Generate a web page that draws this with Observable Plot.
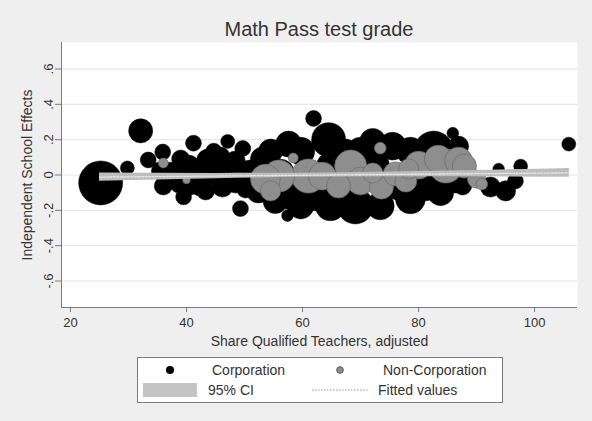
<!DOCTYPE html>
<html>
<head>
<meta charset="utf-8">
<script src="https://cdn.jsdelivr.net/npm/d3@7"></script>
<script src="https://cdn.jsdelivr.net/npm/@observablehq/plot@0.6"></script>
<style>
  html, body { margin: 0; padding: 0; background: #efefef; }
  #wrap { position: relative; width: 592px; height: 421px; background: #efefef; overflow: hidden;
          font-family: "Liberation Sans", Arial, sans-serif; color: #333; }
  #title { position: absolute; top: 19px; left: 61px; width: 516px; text-align: center;
           font-size: 20px; line-height: 20px; color: #333; }
  #chart { position: absolute; top: 0; left: 0; }
  #legend { position: absolute; top: 350px; left: 0; }
</style>
</head>
<body>
<div id="wrap">
  <div id="title">Math Pass test grade</div>
  <div id="chart"></div>
  <div id="legend"></div>
</div>
<script>
// ---- Data ----
const corpX = [25.2, 32.1, 29.8, 33.4, 35.9, 36.0, 39.5, 41.2, 47.1, 49.7, 49.3,
  37.2, 40.3, 43.8, 47.2, 42.4, 46.2, 38.6, 51.0, 44.7, 50.2,
  61.9, 64.5, 57.6, 53.1, 52.4, 55.3, 57.4, 59.7, 64.8, 69.1, 73.4, 78.6, 83.8, 87.6,
  72.1, 75.5, 82.6, 85.9, 93.8, 92.4, 95.0, 96.7, 97.6, 105.9, 67.4, 61.4,
  35.5, 39.0, 41.6, 45.0, 48.4, 43.3, 48.4, 40.7, 45.9, 36.4,
  51.9, 54.5, 59.7, 57.9, 62.2, 67.4, 70.0, 78.6, 76.9, 81.2, 86.4, 86.9,
  56.2, 64.8, 72.6, 83.8];
const corpY = [-0.045, 0.25, 0.04, 0.085, 0.13, -0.062, -0.124, 0.18, 0.19, 0.15, -0.19,
  0.01, 0.045, 0.08, 0.034, -0.056, -0.068, -0.056, 0.023, 0.135, -0.079,
  0.32, 0.2, 0.175, 0.09, -0.09, -0.15, -0.23, -0.175, -0.175, -0.175, -0.175, -0.135, -0.1, -0.062,
  0.19, 0.163, 0.135, 0.237, 0.034, -0.068, -0.09, -0.034, 0.05, 0.175, 0.135, -0.09,
  0.023, 0.09, -0.006, 0.011, 0.079, -0.09, -0.045, -0.068, 0.107, -0.051,
  -0.006, 0.135, 0.135, -0.118, -0.118, -0.118, 0.135, 0.135, -0.062, -0.062, -0.034, 0.163,
  0.011, 0.051, 0.051, 0.023];
const corpW = [100, 30, 10, 13, 13, 17, 13, 13, 10, 13, 13,
  25, 30, 30, 30, 25, 21, 13, 25, 13, 17,
  13, 60, 35, 30, 30, 30, 7, 35, 46, 67, 40, 46, 35, 17,
  35, 40, 83, 7, 7, 21, 21, 13, 10, 10, 30, 40,
  17, 17, 30, 30, 21, 17, 21, 13, 17, 10,
  40, 30, 40, 40, 46, 53, 40, 40, 46, 46, 30, 21,
  40, 40, 40, 40];

const nonX = [36.0, 40.0, 53.6, 55.9, 58.4, 61.0, 63.4, 68.3, 70.0, 66.2, 73.4, 72.1,
  73.6, 76.0, 78.3, 80.0, 83.4, 84.7, 86.9, 87.9, 90.0, 90.9, 54.5, 77.8];
const nonY = [0.068, -0.028, -0.023, -0.006, 0.096, -0.006, -0.006, 0.051, -0.034, -0.062, 0.152, 0.011,
  -0.068, 0.006, 0.034, 0.056, 0.09, 0.051, 0.079, 0.051, -0.023, -0.051, -0.09, -0.034];
const nonW = [5, 3, 46, 53, 5, 60, 40, 53, 40, 30, 7, 21,
  30, 30, 21, 40, 40, 60, 40, 30, 17, 7, 21, 25];

const fitX  = [25, 45, 65, 85, 106];
const fitY  = [-0.012, -0.006, 0.0, 0.006, 0.012];
const ciLo  = [-0.036, -0.021, -0.012, -0.010, -0.013];
const ciHi  = [0.012, 0.009, 0.012, 0.022, 0.037];

const xTicks = [20, 40, 60, 80, 100];
const yTicks = [-0.6, -0.4, -0.2, 0, 0.2, 0.4, 0.6];
const xDomain = [18.45, 107.4];
const yDomain = [-0.75, 0.75];
const xTitle = "Share Qualified Teachers, adjusted";
const yTitle = "Independent School Effects";
const legendLabels = ["Corporation", "Non-Corporation", "95% CI", "Fitted values"];

// ---- Tables ----
const corp = corpX.map((x, i) => ({x, y: corpY[i], w: corpW[i]}));
const non = nonX.map((x, i) => ({x, y: nonY[i], w: nonW[i]}));
const fit = fitX.map((x, i) => ({x, fit: fitY[i], lo: ciLo[i], hi: ciHi[i]}));

const fmtY = d => d === 0 ? "0" : (d < 0 ? "-" : "") + String(Math.abs(d)).replace(/^0/, "");

const chart = Plot.plot({
  width: 592,
  height: 350,
  marginLeft: 61,
  marginRight: 15,
  marginTop: 42,
  marginBottom: 43,
  style: {background: "transparent", fontFamily: "'Liberation Sans', Arial, sans-serif", fontSize: "13px", color: "#333"},
  x: {domain: xDomain, label: null},
  y: {domain: yDomain, label: null},
  r: {type: "sqrt", domain: [0, 100], range: [0, 22]},
  marks: [
    Plot.frame({fill: "white", stroke: null}),
    Plot.ruleY(yTicks, {stroke: "#e4e4e4", strokeWidth: 1}),
    Plot.dot(corp, {x: "x", y: "y", r: "w", fill: "black", stroke: "black", strokeWidth: 0.5}),
    Plot.dot(non, {x: "x", y: "y", r: "w", fill: "#8e8e8e", stroke: "#6a6a6a", strokeWidth: 0.7}),
    Plot.areaY(fit, {x: "x", y1: "lo", y2: "hi", fill: "#bdbdbd", curve: "monotone-x"}),
    Plot.lineY(fit, {x: "x", y: "fit", stroke: "#e8e8e8", strokeWidth: 1.3, strokeDasharray: "2,1.5"}),
    Plot.ruleX([xDomain[0]], {stroke: "#7a7a7a"}),
    Plot.ruleY([yDomain[0]], {stroke: "#7a7a7a"}),
    Plot.axisX({ticks: xTicks, tickSize: 5, tickPadding: 5, stroke: "#7a7a7a", label: null, fill: "#333", fontSize: 13}),
    Plot.axisY({ticks: yTicks, tickSize: 6, tickPadding: 3, tickRotate: -90, tickFormat: fmtY, stroke: "#7a7a7a", label: null, fill: "#333", fontSize: 13}),
    Plot.text([xTitle], {frameAnchor: "bottom", dy: 34, fontSize: 14, fill: "#333", lineAnchor: "middle"}),
    Plot.text([yTitle], {frameAnchor: "left", dx: -34, rotate: -90, textAnchor: "middle", fontSize: 14, fill: "#333"})
  ]
});
document.getElementById("chart").appendChild(chart);

// ---- Legend ----
const svg = d3.select("#legend").append("svg")
  .attr("width", 592).attr("height", 71)
  .style("font-family", "'Liberation Sans', Arial, sans-serif")
  .style("font-size", "14px");
svg.append("rect").attr("x", 137.5).attr("y", 7.5).attr("width", 365).attr("height", 45)
  .attr("fill", "white").attr("stroke", "#7a7a7a");
svg.append("circle").attr("cx", 170).attr("cy", 20).attr("r", 4).attr("fill", "black");
svg.append("circle").attr("cx", 340).attr("cy", 20).attr("r", 3.3).attr("fill", "#8e8e8e").attr("stroke", "#555");
svg.append("rect").attr("x", 143).attr("y", 33).attr("width", 54).attr("height", 14).attr("fill", "#c4c4c4");
svg.append("line").attr("x1", 312).attr("x2", 368).attr("y1", 40).attr("y2", 40)
  .attr("stroke", "#9a9a9a").attr("stroke-width", 1.2).attr("stroke-dasharray", "1.5,1.5");
const lx = [212, 383, 208, 378];
const ly = [20, 20, 40, 40];
legendLabels.forEach((t, i) => {
  svg.append("text").attr("x", lx[i]).attr("y", ly[i]).attr("dy", "0.35em")
    .attr("fill", "#333").text(t);
});
</script>
</body>
</html>
